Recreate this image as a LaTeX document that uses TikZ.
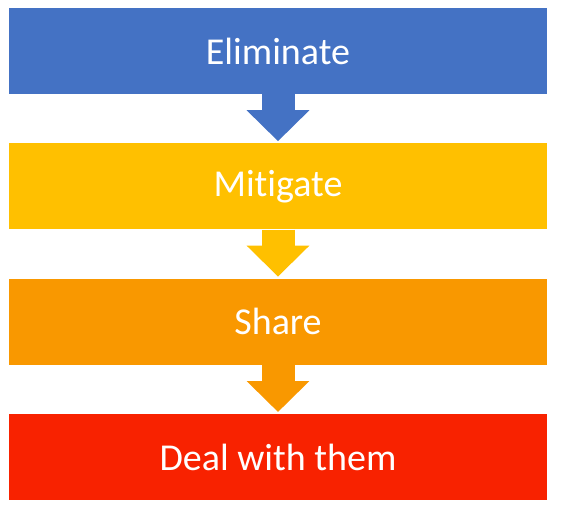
\documentclass[tikz,border=0pt]{standalone}
\usepackage{fontspec}
\setmainfont[Ligatures={NoCommon}]{Carlito}
\usepackage{xcolor}
\definecolor{riskblue}{HTML}{4472C4}
\definecolor{riskyellow}{HTML}{FFC000}
\definecolor{riskorange}{HTML}{F99800}
\definecolor{riskred}{HTML}{F82200}
\usepackage{tikz}
\usetikzlibrary{arrows.meta,positioning}
\tikzset{
  riskbox/.style={draw=none,inner sep=0pt,minimum width=538pt,minimum height=86pt,text=white,font=\fontsize{38}{40}\selectfont},
  riskflow/.style={line width=33pt,-{Triangle[length=31pt,width=61pt]},shorten >=2pt},
}
\begin{document}
\begin{tikzpicture}[node distance=49pt]
\useasboundingbox (0pt,0pt) rectangle (561pt,-518pt);

\node[riskbox,fill=riskblue] (elim) at (278pt,-51pt) {Eliminate};
\node[riskbox,fill=riskyellow,below=of elim] (miti) {Mitigate};
\node[riskbox,fill=riskorange,below=of miti] (share) {Share};
\node[riskbox,fill=riskred,below=of share] (deal) {Deal with them};
\draw[riskflow,riskblue](elim)--(miti);\draw[riskflow,riskyellow](miti)--(share);\draw[riskflow,riskorange](share)--(deal);
\end{tikzpicture}
\end{document}
